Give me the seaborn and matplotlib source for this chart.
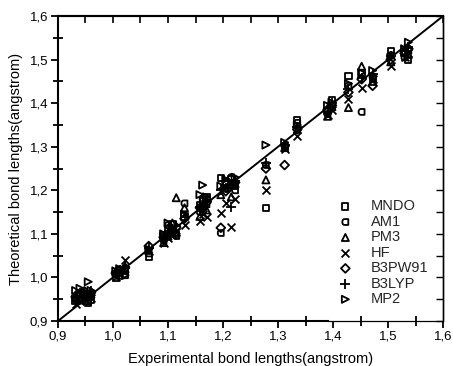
import numpy as np
import pandas as pd
import seaborn as sns
import matplotlib
matplotlib.use("Agg")
import matplotlib.pyplot as plt
from matplotlib.path import Path
from matplotlib.ticker import MultipleLocator, FuncFormatter

sns.set_theme(style="white")
plt.rcParams["font.family"] = ["Liberation Sans", "DejaVu Sans"]

# Experimental bond lengths (angstrom)
experimental = [0.932, 0.940, 0.948, 0.955, 0.960, 1.005, 1.012, 1.022,
                1.065, 1.092, 1.100, 1.108, 1.115, 1.130, 1.158, 1.163,
                1.170, 1.196, 1.205, 1.215, 1.222, 1.278, 1.312, 1.335,
                1.390, 1.398, 1.428, 1.452, 1.472, 1.505, 1.530, 1.537]

# Theoretical bond lengths per method (angstrom)
mndo = [0.945, 0.950, 0.958, 0.942, 0.948, 1.000, 1.010, 1.015,
        1.048, 1.095, 1.110, 1.122, 1.100, 1.140, 1.165, 1.175,
        1.185, 1.228, 1.220, 1.225, 1.210, 1.160, 1.300, 1.362,
        1.382, 1.408, 1.462, 1.470, 1.455, 1.520, 1.515, 1.500]
am1 = [0.950, 0.962, 0.955, 0.945, 0.958, 1.008, 1.018, 1.005,
       1.055, 1.085, 1.120, 1.105, 1.095, 1.170, 1.150, 1.180,
       1.168, 1.102, 1.215, 1.230, 1.200, 1.258, 1.302, 1.355,
       1.375, 1.395, 1.440, 1.380, 1.460, 1.510, 1.505, 1.520]
pm3 = [0.960, 0.948, 0.965, 0.955, 0.962, 1.012, 1.005, 1.020,
       1.062, 1.080, 1.095, 1.125, 1.183, 1.160, 1.140, 1.170,
       1.155, 1.190, 1.205, 1.185, 1.215, 1.224, 1.298, 1.340,
       1.370, 1.392, 1.390, 1.485, 1.450, 1.495, 1.520, 1.512]
hf = [0.940, 0.945, 0.950, 0.962, 0.952, 1.002, 1.008, 1.040,
      1.060, 1.078, 1.090, 1.098, 1.105, 1.120, 1.130, 1.145,
      1.138, 1.148, 1.170, 1.116, 1.180, 1.200, 1.296, 1.325,
      1.372, 1.385, 1.410, 1.435, 1.455, 1.485, 1.505, 1.515]
b3pw91 = [0.955, 0.962, 0.968, 0.958, 0.965, 1.010, 1.015, 1.022,
          1.072, 1.092, 1.100, 1.110, 1.115, 1.135, 1.160, 1.158,
          1.172, 1.114, 1.198, 1.212, 1.218, 1.250, 1.258, 1.340,
          1.385, 1.395, 1.425, 1.455, 1.440, 1.500, 1.515, 1.525]
b3lyp = [0.958, 0.965, 0.962, 0.960, 0.968, 1.012, 1.018, 1.025,
         1.068, 1.095, 1.103, 1.112, 1.118, 1.138, 1.162, 1.160,
         1.175, 1.200, 1.205, 1.162, 1.222, 1.262, 1.305, 1.345,
         1.390, 1.400, 1.432, 1.458, 1.468, 1.508, 1.520, 1.530]
mp2 = [0.970, 0.975, 0.960, 0.990, 0.970, 1.015, 1.020, 1.005,
       1.065, 1.100, 1.125, 1.115, 1.100, 1.145, 1.190, 1.212,
       1.185, 1.210, 1.225, 1.205, 1.230, 1.304, 1.310, 1.350,
       1.395, 1.402, 1.445, 1.470, 1.475, 1.505, 1.525, 1.540]

methods = ["MNDO", "AM1", "PM3", "HF", "B3PW91", "B3LYP", "MP2"]
values = [mndo, am1, pm3, hf, b3pw91, b3lyp, mp2]

# Square with a rounded left side for AM1
rounded_sq = Path(
    [(0.5, -0.5), (-0.15, -0.5), (-0.65, -0.5), (-0.65, 0.5), (-0.15, 0.5),
     (0.5, 0.5), (0.5, -0.5)],
    [Path.MOVETO, Path.LINETO, Path.CURVE4, Path.CURVE4, Path.CURVE4,
     Path.LINETO, Path.CLOSEPOLY])

markers = {"MNDO": "s", "AM1": rounded_sq, "PM3": "^", "HF": "x",
           "B3PW91": "D", "B3LYP": "+", "MP2": ">"}
sizes = {"MNDO": 20, "AM1": 30, "PM3": 26, "HF": 32,
         "B3PW91": 20, "B3LYP": 42, "MP2": 26}

frames = [pd.DataFrame({"experimental": experimental, "theoretical": v,
                        "method": m}) for m, v in zip(methods, values)]
df = pd.concat(frames, ignore_index=True)

fig = plt.figure(figsize=(4.53, 3.66), dpi=100)
ax = fig.add_axes([0.128, 0.123, 0.850, 0.833])

for m in methods:
    sub = df[df["method"] == m]
    if m in ("HF", "B3LYP"):
        sns.scatterplot(data=sub, x="experimental", y="theoretical", ax=ax,
                        marker=markers[m], s=sizes[m], color="black",
                        linewidth=1.3, label=m, zorder=3)
    else:
        sns.scatterplot(data=sub, x="experimental", y="theoretical", ax=ax,
                        marker=markers[m], s=sizes[m], facecolor="none",
                        edgecolor="black", linewidth=1.3, label=m, zorder=3)

# y = x reference line
ax.plot([0.9, 1.6], [0.9, 1.6], color="black", lw=1.4, zorder=2)

ax.set_xlim(0.9, 1.6)
ax.set_ylim(0.9, 1.6)

comma = FuncFormatter(lambda v, p: f"{v:.1f}".replace(".", ","))
for axis in (ax.xaxis, ax.yaxis):
    axis.set_major_locator(MultipleLocator(0.1))
    axis.set_minor_locator(MultipleLocator(0.05))
    axis.set_major_formatter(comma)

ax.tick_params(which="major", direction="out", length=5, width=1.3,
               labelsize=9.5, color="black", labelcolor="black", pad=2,
               bottom=True, left=True)
ax.tick_params(which="minor", direction="inout", length=7, width=1.3,
               color="black", bottom=True, left=True)

# inward ticks on the top and right edges
top = ax.secondary_xaxis("top")
top.xaxis.set_major_locator(MultipleLocator(0.05))
top.tick_params(direction="in", length=5, width=1.2, labeltop=False,
                color="black")
top.spines["top"].set_linewidth(1.5)
right = ax.secondary_yaxis("right")
right.yaxis.set_major_locator(MultipleLocator(0.05))
right.tick_params(direction="in", length=5, width=1.0, labelright=False,
                  color="black")
right.spines["right"].set_linewidth(1.0)

for name, sp in ax.spines.items():
    sp.set_color("black")
    sp.set_linewidth(1.5)
ax.spines["right"].set_linewidth(1.0)
ax.spines["bottom"].set_bounds(0.9, 1.39)
ax.plot([1.39, 1.6], [0.9, 0.9], color="black", lw=0.9, clip_on=False,
        zorder=5)

ax.set_xlabel("Experimental bond lengths(angstrom)", fontsize=10.5,
              color="black", labelpad=7)
ax.set_ylabel("Theoretical bond lengths(angstrom)", fontsize=10.5,
              color="black", labelpad=5)

leg = ax.legend(loc="lower right", bbox_to_anchor=(0.985, 0.02),
                frameon=False, fontsize=10.5, handletextpad=0.95,
                labelspacing=0.1, borderaxespad=0.2, markerscale=1.0,
                handlelength=1.6)

fig.savefig("out.png", dpi=100)
